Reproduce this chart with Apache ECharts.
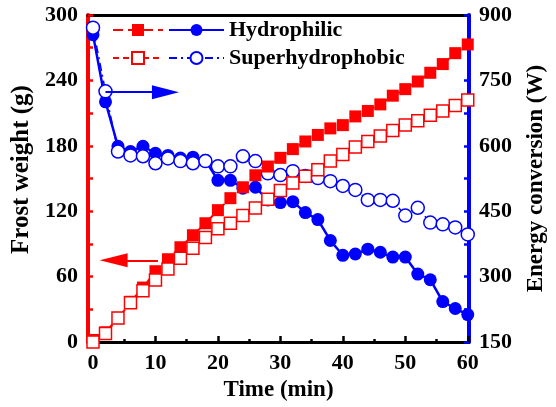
<!DOCTYPE html>
<html>
<head>
<meta charset="utf-8">
<script src="https://cdn.jsdelivr.net/npm/echarts@6/dist/echarts.min.js"></script>
<style>
  html, body { margin: 0; padding: 0; background: #fff; }
  #chart { width: 556px; height: 407px; }
</style>
</head>
<body>
<div id="chart"></div>
<script>
// time axis (min)
const times = [0, 2, 4, 6, 8, 10, 12, 14, 16, 18, 20, 22, 24, 26, 28, 30,
               32, 34, 36, 38, 40, 42, 44, 46, 48, 50, 52, 54, 56, 58, 60];

// frost weight (g), left axis
const frostHydrophilic = [2, 9, 22, 37, 50, 65, 76, 87, 98, 109, 121, 132, 142, 153, 161, 169,
                          177, 184, 190, 196, 199, 207, 212, 218, 226, 232, 239, 247, 255, 265, 273];
const frostSuper = [0, 8, 22, 36, 47, 57, 67, 77, 86, 96, 104, 109, 116, 123, 131, 139,
                    146, 152, 158, 166, 172, 179, 184, 189, 194, 199, 203, 208, 212, 217, 222];

// energy conversion (W), right axis
const energyHydrophilic = [855, 701, 599, 587, 599, 583, 578, 572, 574, 567, 521, 521, 503, 505, 476, 470,
                           472, 447, 431, 383, 349, 352, 363, 356, 345, 345, 306, 293, 243, 227, 213];
const energySuper = [871, 725, 587, 578, 576, 560, 571, 565, 560, 565, 553, 553, 576, 565, 537, 533,
                     542, 531, 526, 519, 508, 499, 476, 476, 474, 440, 458, 424, 420, 413, 397];

// tick values
const xMajorTicks = [0, 10, 20, 30, 40, 50, 60];
const xMinorTicks = [5, 15, 25, 35, 45, 55];

// arrow annotations [start, end] in data units (end = centre of the arrow head)
const blueArrow = [[2, 723], [11.6, 723]];
const redArrow = [[10.4, 75], [3.3, 75]];

function pairs(vals) {
    return times.map((t, i) => [t, vals[i]]);
}

const font = 'Liberation Serif';
const red = '#ff0000';
const blue = '#0000ff';

const myChart = echarts.init(document.getElementById('chart'));

const option = {
    animation: false,
    textStyle: { fontFamily: font },
    grid: { left: 88, right: 83, top: 15, bottom: 61 },
    legend: [
        {
            // red samples only, the text sits in the second legend
            data: ['Hydrophilic frost', 'Superhydrophobic frost'],
            orient: 'vertical',
            left: 112, top: 19, padding: 0,
            itemWidth: 50, itemHeight: 15, itemGap: 6,
            formatter: () => ' ',
            textStyle: { fontSize: 22, fontWeight: 'bold', fontFamily: font }
        },
        {
            data: ['Hydrophilic', 'Superhydrophobic'],
            orient: 'vertical',
            left: 168, top: 19, padding: 0,
            itemWidth: 55, itemHeight: 15, itemGap: 6,
            textStyle: { fontSize: 22, fontWeight: 'bold', fontFamily: font, color: '#000' }
        }
    ],
    xAxis: [
        {
            type: 'value', min: -0.8, max: 60.2,
            name: 'Time (min)', nameLocation: 'middle', nameGap: 34,
            nameTextStyle: { fontSize: 23, fontWeight: 'bold', color: '#000', fontFamily: font },
            axisLine: { onZero: false, lineStyle: { color: '#000', width: 3 } },
            axisTick: { inside: true, length: 6, customValues: xMajorTicks, lineStyle: { color: '#000', width: 2.5 } },
            axisLabel: { customValues: xMajorTicks, margin: 10, fontSize: 22, fontWeight: 'bold', color: '#000', fontFamily: font },
            splitLine: { show: false }
        },
        {
            type: 'value', min: -0.8, max: 60.2, position: 'bottom',
            axisLine: { show: false, onZero: false },
            axisTick: { inside: true, length: 3, customValues: xMinorTicks, lineStyle: { color: '#000', width: 2.5 } },
            axisLabel: { show: false },
            splitLine: { show: false }
        },
        {
            type: 'value', min: -0.8, max: 60.2, position: 'top',
            axisLine: { onZero: false, lineStyle: { color: '#000', width: 3 } },
            axisTick: { show: false },
            axisLabel: { show: false },
            splitLine: { show: false }
        }
    ],
    yAxis: [
        {
            type: 'value', min: 0, max: 300, interval: 30, position: 'left',
            name: 'Frost weight (g)', nameLocation: 'middle', nameGap: 52, nameRotate: 90,
            nameTextStyle: { fontSize: 25, fontWeight: 'bold', color: '#000', fontFamily: font, padding: [0, 0, 0, 18] },
            axisLine: { onZero: false, lineStyle: { color: red, width: 4 } },
            axisTick: { inside: true, length: 5, lineStyle: { color: red, width: 2.5 } },
            axisLabel: {
                margin: 10, fontSize: 22, fontWeight: 'bold', color: '#000', fontFamily: font,
                formatter: v => (v % 60 === 0 ? String(v) : '')
            },
            splitLine: { show: false }
        },
        {
            type: 'value', min: 150, max: 900, interval: 75, position: 'right',
            name: 'Energy conversion (W)', nameLocation: 'middle', nameGap: 56, nameRotate: 90,
            nameTextStyle: { fontSize: 23, fontWeight: 'bold', color: '#000', fontFamily: font },
            axisLine: { onZero: false, lineStyle: { color: blue, width: 4 } },
            axisTick: { inside: true, length: 5, lineStyle: { color: blue, width: 2.5 } },
            axisLabel: {
                margin: 10, fontSize: 22, fontWeight: 'bold', color: '#000', fontFamily: font,
                formatter: v => (v % 150 === 0 ? String(v) : '')
            },
            splitLine: { show: false }
        }
    ],
    series: [
        {
            name: 'Hydrophilic', type: 'line', yAxisIndex: 1,
            data: pairs(energyHydrophilic),
            symbol: 'circle', symbolSize: 13,
            itemStyle: { color: blue },
            lineStyle: { color: blue, width: 2.5 }
        },
        {
            name: 'Superhydrophobic', type: 'line', yAxisIndex: 1,
            data: pairs(energySuper),
            symbol: 'circle', symbolSize: 13,
            itemStyle: { color: '#fff', borderColor: blue, borderWidth: 1.5 },
            lineStyle: { color: blue, width: 1.5, type: [8, 4, 2, 4] },
            markLine: {
                silent: true,
                symbol: ['none', 'triangle'], symbolSize: [14, 27],
                lineStyle: { color: blue, width: 2, type: 'solid' },
                label: { show: false },
                data: [[{ coord: blueArrow[0] }, { coord: blueArrow[1] }]]
            }
        },
        {
            name: 'Hydrophilic frost', type: 'line', yAxisIndex: 0,
            data: pairs(frostHydrophilic),
            symbol: 'rect', symbolSize: 12,
            itemStyle: { color: red },
            lineStyle: { color: red, width: 2, type: [10, 5] },
            markLine: {
                silent: true,
                symbol: ['none', 'triangle'], symbolSize: [14, 28],
                lineStyle: { color: red, width: 2, type: 'solid' },
                label: { show: false },
                data: [[{ coord: redArrow[0] }, { coord: redArrow[1] }]]
            }
        },
        {
            name: 'Superhydrophobic frost', type: 'line', yAxisIndex: 0,
            data: pairs(frostSuper),
            symbol: 'rect', symbolSize: 12,
            itemStyle: { color: '#fff', borderColor: red, borderWidth: 1.5 },
            lineStyle: { color: red, width: 2, type: [6, 4] }
        }
    ]
};

myChart.setOption(option);
</script>
</body>
</html>
